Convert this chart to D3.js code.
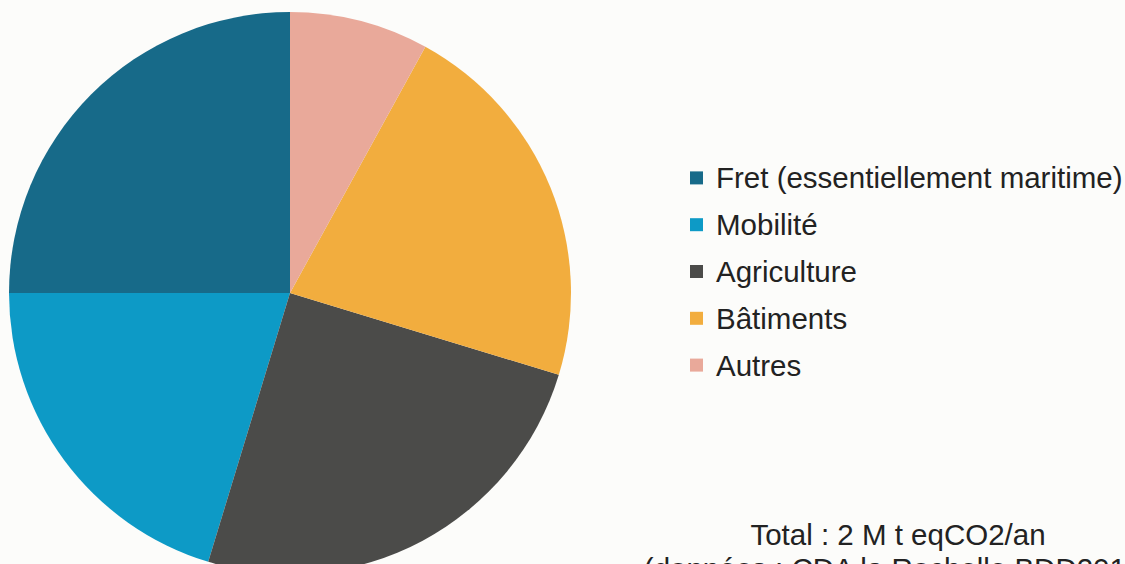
<!DOCTYPE html>
<html>
<head>
<meta charset="utf-8">
<script src="https://cdn.jsdelivr.net/npm/d3@7"></script>
<style>
  html, body { margin: 0; padding: 0; background: #fcfcfa; }
  svg { display: block; font-family: "Liberation Sans", Arial, sans-serif; }
</style>
</head>
<body>
<div class="canvas"></div>
<script>
// sector shares (% of total emissions), in legend order
const categories = ['Fret (essentiellement maritime)', 'Mobilité', 'Agriculture', 'Bâtiments', 'Autres'];
const shares = [25, 20.3, 25, 21.7, 8];
const colours = ['#176a89', '#0d9ac6', '#4b4b49', '#f2ad3e', '#e9a99a'];
const notes = ['Total : 2 M t eqCO2/an', '(données : CDA la Rochelle BDD2019)'];

const dims = {width: 1125, height: 564, radius: 281};
const center = {x: 290, y: 293};

const data = categories.map((name, i) => ({name, value: shares[i]}));

const svg = d3.select('.canvas')
    .append('svg')
    .attr('width', dims.width)
    .attr('height', dims.height);

const color = d3.scaleOrdinal()
    .domain(categories)
    .range(colours);

// slices run anticlockwise from 12 o'clock
const pie = d3.pie()
    .sort(null)
    .startAngle(0)
    .endAngle(-2 * Math.PI)
    .value(d => d.value);

const arcPath = d3.arc()
    .innerRadius(0)
    .outerRadius(dims.radius);

const graph = svg.append('g')
    .attr('transform', `translate(${center.x}, ${center.y})`);

graph.selectAll('path')
    .data(pie(data))
    .enter()
    .append('path')
    .attr('d', arcPath)
    .attr('fill', d => color(d.data.name));

// legend
const legendRow = d3.scaleBand()
    .domain(categories)
    .range([155, 389]);

const legend = svg.append('g')
    .attr('transform', 'translate(690, 0)');

const items = legend.selectAll('g')
    .data(categories)
    .enter()
    .append('g')
    .attr('transform', d => `translate(0, ${legendRow(d) + legendRow.bandwidth() / 2})`);

items.append('rect')
    .attr('x', 0)
    .attr('y', -7)
    .attr('width', 13)
    .attr('height', 13)
    .attr('fill', d => color(d));

items.append('text')
    .attr('x', 26)
    .attr('y', 10)
    .attr('font-size', 29.5)
    .attr('fill', '#222')
    .text(d => d);

// total note (second line runs off the bottom, as in the source)
svg.append('g')
    .selectAll('text')
    .data(notes)
    .enter()
    .append('text')
    .attr('x', 898)
    .attr('y', (d, i) => 545 + i * 34)
    .attr('text-anchor', 'middle')
    .attr('font-size', 29.5)
    .attr('fill', '#222')
    .text(d => d);
</script>
</body>
</html>
